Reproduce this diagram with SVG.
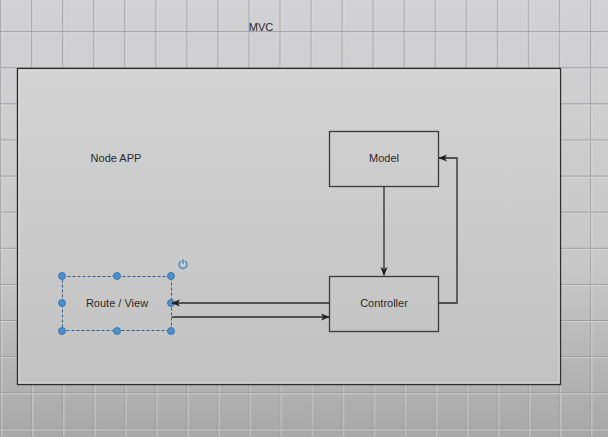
<svg xmlns="http://www.w3.org/2000/svg" width="608" height="437" viewBox="0 0 608 437">
<defs>
<linearGradient id="bg" x1="0" y1="0" x2="0" y2="1">
<stop offset="0" stop-color="#d2d2d4"/>
<stop offset="0.6" stop-color="#c8c8c8"/>
<stop offset="1" stop-color="#a8a8a8"/>
</linearGradient>
<linearGradient id="box" x1="0" y1="0" x2="0" y2="1">
<stop offset="0" stop-color="#d3d3d4"/>
<stop offset="1" stop-color="#c2c2c2"/>
</linearGradient>
<pattern id="grid" x="0" y="0" width="31.05" height="36.1" patternUnits="userSpaceOnUse">
<rect x="0.3" y="0" width="1" height="36.1" fill="#9a9a9d"/>
<rect x="1.3" y="0" width="1" height="36.1" fill="#e6e6e8" opacity="0.6"/>
<rect x="0" y="31.2" width="31.05" height="1" fill="#9a9a9d"/>
<rect x="0" y="32.2" width="31.05" height="1" fill="#e6e6e8" opacity="0.6"/>
</pattern>
<marker id="arr" viewBox="0 0 10 10" refX="9" refY="5" markerWidth="9" markerHeight="9" markerUnits="userSpaceOnUse" orient="auto">
<path d="M0,1 L10,5 L0,9 L2.5,5 Z" fill="#222"/>
</marker>
<style>
.lbl{font-family:"Liberation Sans",Arial,sans-serif;font-size:11px;fill:#2a2a2a;text-anchor:middle;dominant-baseline:central}
.node{fill:none;stroke:#3a3a3a;stroke-width:1.3}
.conn{fill:none;stroke:#2a2a2a;stroke-width:1.3}
.h{fill:#4a90d0;stroke:#2e6da8;stroke-width:0.8}
</style>
</defs>
<rect width="608" height="437" fill="url(#bg)"/>
<rect width="608" height="437" fill="url(#grid)"/>
<text class="lbl" x="261" y="27">MVC</text>
<g id="nodeapp">
<rect x="17.5" y="68.5" width="543" height="316" fill="url(#box)" stroke="#2e2e2e" stroke-width="1.4"/>
<rect x="19" y="70" width="540" height="313" fill="none" stroke="#e8e8e8" stroke-width="0.8"/>
<text class="lbl" x="116" y="158">Node APP</text>
</g>
<g id="model">
<rect class="node" x="329.5" y="131.5" width="109" height="55"/>
<text class="lbl" x="384" y="158">Model</text>
</g>
<g id="controller">
<rect class="node" x="329.5" y="276.5" width="109" height="55"/>
<text class="lbl" x="384" y="303">Controller</text>
</g>
<g id="routeview">
<rect x="62.5" y="276.5" width="109" height="54" fill="none" stroke="#2f5f8a" stroke-width="1" stroke-dasharray="3,2"/>
<text class="lbl" x="117" y="303">Route / View</text>
<circle class="h" cx="62" cy="276" r="3.5"/>
<circle class="h" cx="117" cy="276" r="3.5"/>
<circle class="h" cx="171" cy="276" r="3.5"/>
<circle class="h" cx="62" cy="303" r="3.5"/>
<circle class="h" cx="171" cy="303" r="3.5"/>
<circle class="h" cx="62" cy="331" r="3.5"/>
<circle class="h" cx="117" cy="331" r="3.5"/>
<circle class="h" cx="171" cy="331" r="3.5"/>
<path d="M181,261 A4,4 0 1 0 185,261" fill="none" stroke="#3f8cc8" stroke-width="1.4"/>
<line x1="183" y1="259" x2="183" y2="264" stroke="#3f8cc8" stroke-width="1.4"/>
</g>
<g id="connectors">
<line class="conn" x1="384" y1="187" x2="384" y2="275" marker-end="url(#arr)"/>
<polyline class="conn" points="439,303 457,303 457,158 439,158" marker-end="url(#arr)"/>
<line class="conn" x1="329" y1="303" x2="172" y2="303" marker-end="url(#arr)"/>
<line class="conn" x1="172" y1="317" x2="329" y2="317" marker-end="url(#arr)"/>
</g>
</svg>
